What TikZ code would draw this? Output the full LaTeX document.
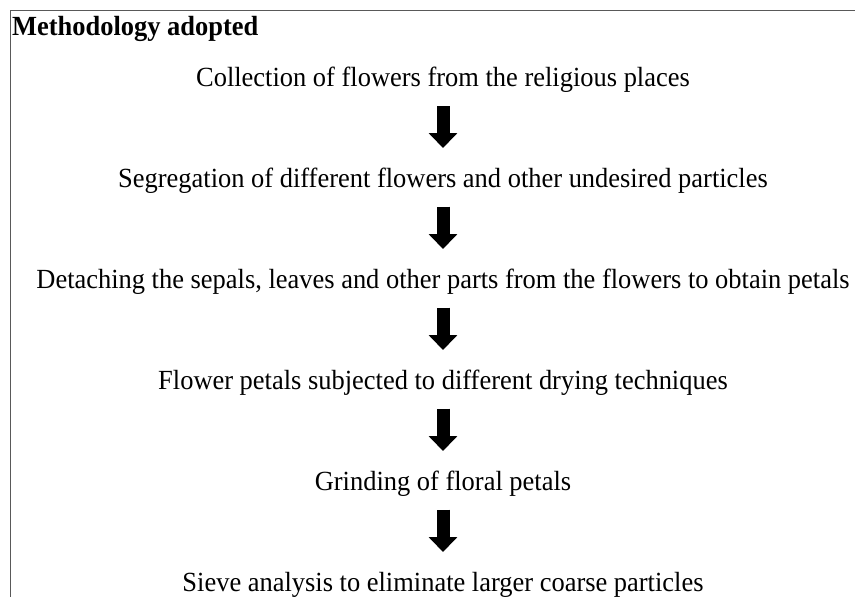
\documentclass[tikz,border=0pt]{standalone}
\usepackage{fontspec}
\setmainfont{Liberation Serif}[FakeStretch=0.955]
\usetikzlibrary{arrows.meta}
\begin{document}
\begin{tikzpicture}[x=1pt,y=-1pt,
  steptext/.style={anchor=base,inner sep=0pt,font=\fontsize{27.7}{30}\selectfont},
  titletext/.style={anchor=base west,inner sep=0pt,font=\fontsize{27.7}{30}\selectfont\bfseries},
  flowarrow/.style={line width=13pt,-{Triangle[width=28pt,length=15pt]}},
  frameline/.style={draw=black!65,line width=1pt}]
\useasboundingbox (0,0) rectangle (855,597);
\coordinate (fbl) at (10,597);
\coordinate (ftl) at (10,10);
\coordinate (ftr) at (855,10);
\draw[frameline] (fbl) -- (ftl) -- (ftr);
\node[titletext] (title) at (12,35) {Methodology adopted};
\node[steptext] (s1) at (443,86.5) {Collection of flowers from the religious places};
\node[steptext] (s2) at (443,187) {Segregation of different flowers and other undesired particles};
\node[steptext] (s3) at (443,288) {Detaching the sepals, leaves and other parts from the flowers to obtain petals};
\node[steptext] (s4) at (443,389) {Flower petals subjected to different drying techniques};
\node[steptext] (s5) at (443,490) {Grinding of floral petals};
\node[steptext] (s6) at (443,591) {Sieve analysis to eliminate larger coarse particles};
\foreach \a/\b in {s1/s2,s2/s3,s3/s4,s4/s5,s5/s6}
  \draw[flowarrow] ([yshift=-19.5pt]\a.base) -- ([yshift=39pt]\b.base);
\end{tikzpicture}
\end{document}
